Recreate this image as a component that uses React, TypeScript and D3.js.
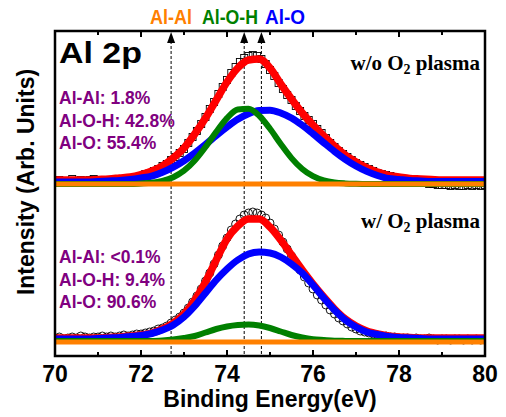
import React from "react";
import * as d3 from "d3";

// ---------- data ----------
const FIT_E = d3.range(70, 80.001, 0.25); // 41 energies for fitted curves
const DATA_E = d3.range(70, 80.001, 0.1); // 101 energies for measured points
const ORANGE_E = [70, 80];

const xTicksMajor = [70, 72, 74, 76, 78, 80];
const xTicksAll = [70, 71, 72, 73, 74, 75, 76, 77, 78, 79, 80];
const markerPositions = [72.7, 74.4, 74.8];
const topLabels = ["Al-Al", "Al-O-H", "Al-O"];
const topLabelCenters = [72.7, 74.07, 75.35];
const topLabelWidths = [42, 56, 40];
const topLabelColors = ["#FF8000", "#008000", "#0000FF"];

const topPercents = ["Al-Al: 1.8%", "Al-O-H: 42.8%", "Al-O: 55.4%"];
const bottomPercents = ["Al-Al: <0.1%", "Al-O-H: 9.4%", "Al-O: 90.6%"];

// Top panel (w/o O2 plasma), heights above its own baseline
const topData = [
  3, 4, 2, 3, 5, 3, 4, 2, 4, 5, 4,
  3, 2, 4, 3, 4, 5, 5, 6, 7, 8,
  10, 11, 13, 15, 18, 20, 24, 27, 31, 35,
  41, 47, 53, 60, 67, 75, 82, 90, 97, 104,
  111, 117, 122, 126, 128, 129, 128, 125, 120, 114,
  108, 101, 95, 89, 84, 78, 73, 68, 64, 60,
  55, 51, 46, 41, 37, 33, 30, 27, 24, 21,
  19, 17, 15, 13, 11, 10, 9, 8, 6, 5,
  4, 3, 3, 2, 1, 1, 0, 0, -1, -1,
  -1, -2, -1, -2, -2, -1, -2, -1, -2, -1,
];
const topRed = [
  4, 4, 4, 4, 4.5, 5, 6, 7, 9.5, 13, 18, 26, 36, 50, 66, 84, 102, 116, 124, 125,
  116, 100, 85, 71, 59, 48, 38, 29, 22, 16, 12, 8.5, 7, 5.5, 5, 4.5, 4, 4, 4, 4, 4,
];
const topBlue = [
  2, 2, 2, 2, 2.5, 3, 3.5, 4.5, 6, 7.8, 11.7, 16.9, 23.3, 31, 39.5, 48.5, 57, 64.7, 70.3, 73.5,
  73.8, 71, 66, 58.7, 50.2, 41.3, 32.6, 24.7, 18, 12.6, 8.5, 5.5, 4.5, 3.5, 3, 2.5, 2.5, 2.5, 2.5, 2.5, 2.5,
];
const topGreen = [
  0, 0, 0, 0, 0, 0, 0, 0, 0.5, 1.2, 3.1, 6.8, 13.3, 23.5, 37, 52.2, 65.9, 74.5, 75.3, 68.2,
  55.2, 40, 25.9, 15, 7.8, 3.6, 1.5, 0.6, 0.2, 0, 0, 0, 0, 0, 0, 0, 0, 0, 0, 0, 0,
];
const topOrange = [0, 0];

// Bottom panel (w/ O2 plasma)
const bottomData = [
  4, 5, 3, 4, 5, 4, 6, 5, 4, 5, 5,
  6, 5, 6, 5, 6, 7, 6, 7, 8, 8,
  9, 10, 11, 13, 14, 16, 19, 22, 25, 29,
  34, 40, 46, 53, 61, 69, 78, 87, 96, 104,
  112, 118, 123, 127, 129, 130, 129, 127, 124, 119,
  113, 107, 100, 93, 86, 79, 72, 65, 59, 53,
  47, 42, 37, 32, 28, 24, 21, 18, 15, 13,
  11, 10, 9, 8, 7, 6, 6, 5, 5, 4,
  4, 4, 3, 4, 3, 3, 4, 3, 2, 3,
  3, 2, 3, 3, 2, 3, 2, 3, 2, 3,
];
const bottomRed = [
  4, 4, 4, 4, 4, 4.5, 5, 6, 7, 9, 13, 19, 28, 42, 60, 82, 103, 116, 123, 123,
  115, 102, 87, 72, 58, 45, 33, 23, 16, 11, 8, 6, 5, 4.5, 4, 4, 4, 4, 4, 4, 4,
];
const bottomBlue = [
  3, 3, 3, 3, 3.5, 4, 4.5, 5.5, 6.5, 8.5, 12, 17, 25, 36, 49, 62, 73, 82, 88, 90,
  89, 85, 78, 69, 57, 44, 32, 22, 15, 10, 7.5, 5.5, 4.5, 4, 3.5, 3, 3, 3, 3, 3, 3,
];
const bottomGreen = [
  1, 1, 1, 1, 1, 1, 1, 1, 1, 1, 1.5, 2.5, 4, 6, 9.5, 13, 15.5, 17, 17.5, 16.5,
  14, 10.5, 7, 4.5, 2.8, 2, 1.3, 1.1, 1, 1, 1, 1, 1, 1, 1, 1, 1, 1, 1, 1, 1,
];
const bottomOrange = [0, 0];

const TOP_OFFSET = 172;
const BOTTOM_OFFSET = 14;

// ---------- layout ----------
const W = 506;
const H = 417;
const L = 55;
const R = 485;
const T = 31;
const B = 356;

const SANS = "'Liberation Sans', Arial, Helvetica, sans-serif";
const SERIF = "'Liberation Serif', 'Times New Roman', Times, serif";

export default function App() {
  const x = d3.scaleLinear().domain([70, 80]).range([L, R]);
  const y = d3.scaleLinear().domain([0, 325]).range([B, T]);

  const mkLine = (xs: number[], vals: number[], off: number) =>
    d3
      .line<number>()
      .x((_, i) => x(xs[i]))
      .y((v) => y(v + off))
      .curve(d3.curveMonotoneX)(vals) || "";

  const panels = [
    { off: TOP_OFFSET, data: topData, red: topRed, blue: topBlue, green: topGreen, orange: topOrange, marker: "square" },
    { off: BOTTOM_OFFSET, data: bottomData, red: bottomRed, blue: bottomBlue, green: bottomGreen, orange: bottomOrange, marker: "circle" },
  ];

  return (
    <svg width={W} height={H} style={{ position: "absolute", left: 0, top: 0, background: "#fff" }}>
      <defs>
        <clipPath id="plotclip">
          <rect x={L} y={T} width={R - L} height={B - T} />
        </clipPath>
      </defs>

      {/* dashed marker lines */}
      {markerPositions.map((m, i) => (
        <line key={"dl" + i} x1={x(m)} x2={x(m)} y1={T + 10} y2={B} stroke="#000" strokeWidth={1} strokeDasharray="3,2" />
      ))}

      <g clipPath="url(#plotclip)">
        {panels.map((p, pi) => (
          <g key={"p" + pi}>
            {p.data.map((v, i) =>
              p.marker === "square" ? (
                <rect key={i} x={x(DATA_E[i]) - 3.5} y={y(v + p.off) - 3.5} width={7} height={7} fill="none" stroke="#000" strokeWidth={0.9} />
              ) : (
                <circle key={i} cx={x(DATA_E[i])} cy={y(v + p.off)} r={4} fill="none" stroke="#000" strokeWidth={0.9} />
              )
            )}
            <path d={mkLine(FIT_E, p.red, p.off)} fill="none" stroke="#FF0000" strokeWidth={7.5} />
            <path d={mkLine(FIT_E, p.blue, p.off)} fill="none" stroke="#0000FF" strokeWidth={7} />
            <path d={mkLine(FIT_E, p.green, p.off)} fill="none" stroke="#008000" strokeWidth={6} />
            <path d={mkLine(ORANGE_E, p.orange, p.off)} fill="none" stroke="#FF8000" strokeWidth={5} />
          </g>
        ))}
      </g>

      {/* arrows */}
      {markerPositions.map((m, i) => (
        <path key={"ar" + i} d={`M${x(m)},${T + 1} L${x(m) - 4},${T + 12} L${x(m) + 4},${T + 12} Z`} fill="#000" />
      ))}

      {/* ticks */}
      {xTicksAll.map((t) => {
        const major = xTicksMajor.includes(t);
        const len = major ? 6 : 4;
        return (
          <g key={"t" + t}>
            <line x1={x(t)} x2={x(t)} y1={B} y2={B - len} stroke="#000" strokeWidth={2} />
            <line x1={x(t)} x2={x(t)} y1={T} y2={T + len} stroke="#000" strokeWidth={2} />
          </g>
        );
      })}

      {/* frame */}
      <rect x={L} y={T} width={R - L} height={B - T} fill="none" stroke="#000" strokeWidth={2.5} />

      {/* tick labels */}
      {xTicksMajor.map((t) => (
        <text key={"tl" + t} x={x(t)} y={382} textAnchor="middle" fontFamily={SANS} fontWeight="bold" fontSize={23}>
          {t}
        </text>
      ))}
      <text x={(L + R) / 2} y={407} textAnchor="middle" fontFamily={SANS} fontWeight="bold" fontSize={23}>
        Binding Energy(eV)
      </text>
      <text transform="translate(34,182) rotate(-90)" textAnchor="middle" fontFamily={SANS} fontWeight="bold" fontSize={23}>
        Intensity (Arb. Units)
      </text>

      {/* top labels */}
      {topLabels.map((s, i) => (
        <text
          key={"lab" + i}
          x={x(topLabelCenters[i]) - topLabelWidths[i] / 2}
          y={24}
          textLength={topLabelWidths[i]}
          lengthAdjust="spacingAndGlyphs"
          fontFamily={SANS}
          fontWeight="bold"
          fontSize={21}
          fill={topLabelColors[i]}
        >
          {s}
        </text>
      ))}

      <text x={59} y={63} textLength={83} lengthAdjust="spacingAndGlyphs" fontFamily={SANS} fontWeight="bold" fontSize={30}>
        Al 2p
      </text>

      {topPercents.map((s, i) => (
        <text key={"tp" + i} x={59} y={104 + i * 22.5} fontFamily={SANS} fontWeight="bold" fontSize={17.5} fill="#800080">
          {s}
        </text>
      ))}
      {bottomPercents.map((s, i) => (
        <text key={"bp" + i} x={59} y={263 + i * 22.5} fontFamily={SANS} fontWeight="bold" fontSize={17.5} fill="#800080">
          {s}
        </text>
      ))}

      <text x={480} y={70} textAnchor="end" fontFamily={SERIF} fontWeight="bold" fontSize={21}>
        w/o O<tspan fontSize={14} dy={4}>2</tspan>
        <tspan dy={-4}> plasma</tspan>
      </text>
      <text x={480} y={228} textAnchor="end" fontFamily={SERIF} fontWeight="bold" fontSize={21}>
        w/ O<tspan fontSize={14} dy={4}>2</tspan>
        <tspan dy={-4}> plasma</tspan>
      </text>
    </svg>
  );
}
